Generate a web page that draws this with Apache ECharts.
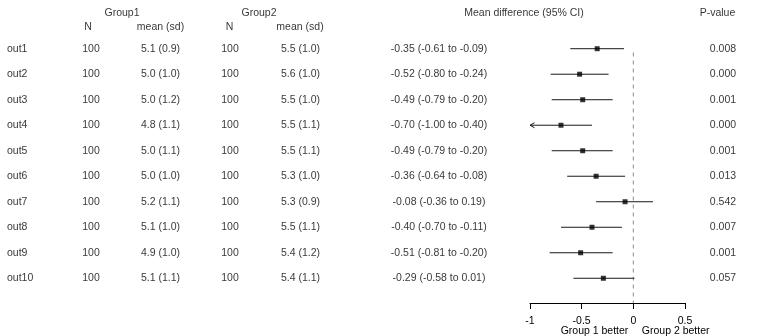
<!DOCTYPE html>
<html><head><meta charset="utf-8">
<script src="https://cdn.jsdelivr.net/npm/echarts@6/dist/echarts.min.js"></script>
<style>html,body{margin:0;padding:0;background:#fff}#c{width:768px;height:336px}</style>
</head><body><div id="c"></div>
<script>
const outcomes = ['out1','out2','out3','out4','out5','out6','out7','out8','out9','out10'];
const n1 = [100,100,100,100,100,100,100,100,100,100];
const mean1 = ['5.1','5.0','5.0','4.8','5.0','5.0','5.2','5.1','4.9','5.1'];
const sd1 = ['0.9','1.0','1.2','1.1','1.1','1.0','1.1','1.0','1.0','1.1'];
const n2 = [100,100,100,100,100,100,100,100,100,100];
const mean2 = ['5.5','5.6','5.5','5.5','5.5','5.3','5.3','5.5','5.4','5.4'];
const sd2 = ['1.0','1.0','1.0','1.1','1.1','1.0','0.9','1.1','1.2','1.1'];
const diff = [-0.35,-0.52,-0.49,-0.70,-0.49,-0.36,-0.08,-0.40,-0.51,-0.29];
const lower = [-0.61,-0.80,-0.79,-1.00,-0.79,-0.64,-0.36,-0.70,-0.81,-0.58];
const upper = [-0.09,-0.24,-0.20,-0.40,-0.20,-0.08,0.19,-0.11,-0.20,0.01];
const pvalues = ['0.008','0.000','0.001','0.000','0.001','0.013','0.542','0.007','0.001','0.057'];
const xMin = -1, xMax = 0.5, xStep = 0.5;
const headerTop = ['Group1','Group2','Mean difference (95% CI)','P-value'];
const headerSub = ['N','mean (sd)','N','mean (sd)'];
const betterLabels = ['Group 1 better','Group 2 better'];

const FONT = 'Liberation Sans, Arial, sans-serif';
const FS = 10.5;
const rows = outcomes.map((_, i) => i + 1);
const fmt = v => v.toFixed(2);
const ciText = diff.map((d, i) => fmt(d) + ' (' + fmt(lower[i]) + ' to ' + fmt(upper[i]) + ')');

function textSeries(x, ys, texts, align) {
  return {
    type: 'scatter', xAxisIndex: 0, yAxisIndex: 0, silent: true,
    symbol: 'circle', symbolSize: 1, itemStyle: { color: 'rgba(0,0,0,0)' },
    data: ys.map((y, i) => ({ value: [x, y], name: String(texts[i]) })),
    label: { show: true, position: 'inside', formatter: p => p.name, color: '#000',
      fontFamily: FONT, fontSize: FS, align: align, verticalAlign: 'middle' }
  };
}
const hTop = -0.4, hSub = 0.17;
const series = [
  textSeries(7, rows, outcomes, 'left'),
  textSeries(91, rows, n1, 'center'),
  textSeries(160.5, rows, mean1.map((m, i) => m + ' (' + sd1[i] + ')'), 'center'),
  textSeries(230, rows, n2, 'center'),
  textSeries(300.5, rows, mean2.map((m, i) => m + ' (' + sd2[i] + ')'), 'center'),
  textSeries(439, rows, ciText, 'center'),
  textSeries(723, rows, pvalues, 'center'),
  textSeries(122, [hTop], [headerTop[0]], 'center'),
  textSeries(259, [hTop], [headerTop[1]], 'center'),
  textSeries(524, [hTop], [headerTop[2]], 'center'),
  textSeries(717.5, [hTop], [headerTop[3]], 'center'),
  textSeries(88, [hSub], [headerSub[0]], 'center'),
  textSeries(160.5, [hSub], [headerSub[1]], 'center'),
  textSeries(229.5, [hSub], [headerSub[2]], 'center'),
  textSeries(300, [hSub], [headerSub[3]], 'center'),
  {
    type: 'line', xAxisIndex: 1, yAxisIndex: 1, silent: true, symbol: 'none',
    data: [[0, 1.15], [0, 10.97]],
    lineStyle: { color: '#8c8c8c', width: 1, type: [4, 4] }, z: 1
  },
  {
    type: 'custom', xAxisIndex: 1, yAxisIndex: 1, silent: true, clip: false,
    data: rows.map((r, i) => [r, lower[i], upper[i]]),
    renderItem: (params, api) => {
      const r = api.value(0), lo = api.value(1), hi = api.value(2);
      const cl = Math.max(lo, xMin), ch = Math.min(hi, xMax);
      const p1 = api.coord([cl, r]), p2 = api.coord([ch, r]);
      const children = [{ type: 'line', shape: { x1: p1[0], y1: p1[1], x2: p2[0], y2: p2[1] },
        style: { stroke: '#1a1a1a', lineWidth: 1 } }];
      if (lo <= xMin) {
        children.push({ type: 'polyline', shape: { points: [[p1[0] + 4.5, p1[1] - 2.5], [p1[0], p1[1]], [p1[0] + 4.5, p1[1] + 2.5]] },
          style: { stroke: '#1a1a1a', lineWidth: 1, fill: null } });
      }
      return { type: 'group', children };
    }, z: 2
  },
  {
    type: 'scatter', xAxisIndex: 1, yAxisIndex: 1, silent: true,
    symbol: 'rect', symbolSize: 5, itemStyle: { color: '#000' },
    data: rows.map((r, i) => [diff[i], r]), z: 3
  }
];

const chart = echarts.init(document.getElementById('c'), null, { renderer: 'canvas' });
chart.setOption({
  animation: false,
  backgroundColor: '#fff',
  grid: [
    { left: 0, top: 0, width: 768, height: 336 },
    { left: 530, top: 0, width: 155, height: 303 }
  ],
  xAxis: [
    { gridIndex: 0, type: 'value', min: 0, max: 768, show: false },
    { gridIndex: 1, type: 'value', min: xMin, max: xMax, interval: xStep, position: 'bottom',
      splitLine: { show: false },
      axisLine: { show: true, onZero: false, lineStyle: { color: '#000', width: 1 } },
      axisTick: { show: true, length: 6, lineStyle: { color: '#000' } },
      axisLabel: { color: '#000', fontFamily: FONT, fontSize: FS, margin: 13 } }
  ],
  yAxis: [
    { gridIndex: 0, type: 'value', inverse: true, min: -0.91, max: 12.267, show: false },
    { gridIndex: 1, type: 'value', inverse: true, min: -0.91, max: 10.97, show: false }
  ],
  series
});
const x0 = chart.convertToPixel({ xAxisIndex: 1 }, 0);
chart.setOption({
  graphic: [
    { type: 'text', x: x0 - 5, y: 331.5, style: { text: betterLabels[0], fill: '#000', font: FS + 'px ' + FONT, textAlign: 'right', textVerticalAlign: 'middle' } },
    { type: 'text', x: x0 + 8.5, y: 331.5, style: { text: betterLabels[1], fill: '#000', font: FS + 'px ' + FONT, textAlign: 'left', textVerticalAlign: 'middle' } }
  ]
});
</script></body></html>
